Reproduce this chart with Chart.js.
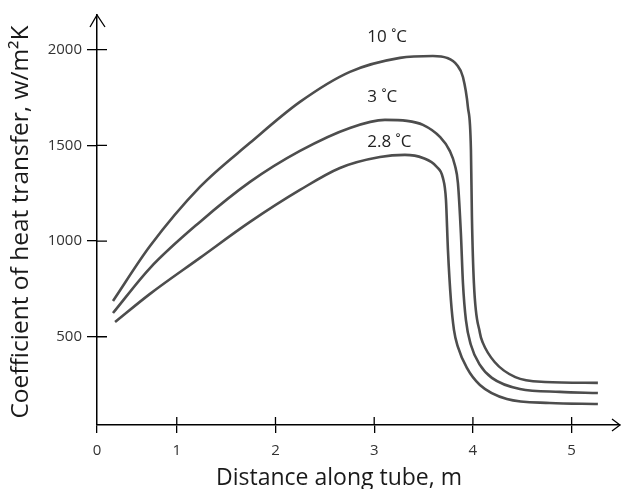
<!DOCTYPE html>
<html>
<head>
<meta charset="utf-8">
<script src="https://cdn.jsdelivr.net/npm/chart.js@4/dist/chart.umd.min.js"></script>
<style>
  html, body { margin: 0; padding: 0; background: #fff; }
  canvas { display: block; }
</style>
</head>
<body>
<canvas id="chart" width="621" height="489"></canvas>
<script>
// curve names, as written next to each curve
let seriesNames = ['10 ˚C', '3 ˚C', '2.8 ˚C'];

// 10 C curve: distance (m) and coefficient (W/m2K)
let dist10 = [0.354, 0.729, 1.235, 1.742, 2.248, 2.754, 3.261, 3.595, 3.737, 3.838, 3.899, 3.949, 3.980, 3.990, 4.010, 4.071, 4.101, 4.220, 4.430, 4.730, 5.266];
let coef10 = [687, 974, 1283, 1513, 1727, 1884, 1957, 1967, 1957, 1920, 1857, 1701, 1476, 1126, 781, 520, 468, 368, 289, 264, 259];

// 3 C curve
let dist3 = [0.354, 0.729, 1.235, 1.742, 2.248, 2.754, 3.109, 3.332, 3.494, 3.666, 3.767, 3.818, 3.848, 3.878, 3.899, 3.929, 3.980, 4.071, 4.192, 4.476, 4.881, 5.266];
let coef3 = [624, 859, 1100, 1309, 1471, 1591, 1633, 1628, 1607, 1544, 1470, 1395, 1304, 1042, 781, 588, 457, 353, 285, 227, 212, 206];

// 2.8 C curve
let dist28 = [0.375, 0.729, 1.235, 1.742, 2.248, 2.653, 3.058, 3.311, 3.494, 3.635, 3.696, 3.727, 3.747, 3.777, 3.808, 3.848, 3.939, 4.071, 4.344, 4.780, 5.266];
let coef28 = [577, 724, 912, 1100, 1267, 1382, 1439, 1450, 1434, 1387, 1330, 1215, 954, 692, 536, 447, 337, 248, 175, 154, 149];

let xTicks = [1, 2, 3, 4, 5];
let yTicks = [500, 1000, 1500, 2000];

// where the curve names sit, in data units (left edge, vertical middle)
let nameSpots = [[2.93, 2066], [2.93, 1753], [2.93, 1518]];

const X_MIN = 0.192, X_MAX = 5.49;
const Y_MIN = 39, Y_MAX = 2181;
const FONT = '"Open Sans", "Noto Sans", sans-serif';

function zip(xs, ys) {
    return xs.map((x, i) => ({ x: x, y: ys[i] }));
}

let canvas = document.getElementById('chart');

let axisDecor = {
    id: 'axisDecor',
    afterDraw(chart) {
        let ctx = chart.ctx;
        let xs = chart.scales.x, ys = chart.scales.y;
        let area = chart.chartArea;
        ctx.save();
        ctx.strokeStyle = '#000';
        ctx.lineWidth = 1.3;

        // inner halves of the tick marks
        ctx.beginPath();
        xTicks.forEach(v => {
            let px = xs.getPixelForValue(v);
            ctx.moveTo(px, area.bottom);
            ctx.lineTo(px, area.bottom - 8);
        });
        yTicks.forEach(v => {
            let py = ys.getPixelForValue(v);
            ctx.moveTo(area.left, py);
            ctx.lineTo(area.left + 10, py);
        });
        ctx.stroke();

        // arrow heads
        ctx.beginPath();
        ctx.moveTo(area.left - 7, area.top + 12);
        ctx.lineTo(area.left, area.top);
        ctx.lineTo(area.left + 8, area.top + 12);
        ctx.moveTo(area.right - 8, area.bottom - 6);
        ctx.lineTo(area.right, area.bottom);
        ctx.lineTo(area.right - 8, area.bottom + 6);
        ctx.stroke();

        // curve names
        ctx.fillStyle = '#222';
        ctx.font = '17px ' + FONT;
        ctx.textAlign = 'left';
        ctx.textBaseline = 'middle';
        nameSpots.forEach((p, i) => {
            ctx.fillText(seriesNames[i], xs.getPixelForValue(p[0]), ys.getPixelForValue(p[1]));
        });

        // axis titles
        ctx.fillStyle = '#1a1a1a';
        ctx.font = '23px ' + FONT;
        ctx.textAlign = 'center';
        ctx.textBaseline = 'alphabetic';
        ctx.fillText('Distance along tube, m', 339, 485);

        ctx.font = '24.5px ' + FONT;
        ctx.translate(21, 222);
        ctx.rotate(-Math.PI / 2);
        ctx.textBaseline = 'middle';
        ctx.fillText('Coefficient of heat transfer, w/m²K', 0, 0);
        ctx.restore();
    }
};

let lineStyle = {
    borderColor: '#4d4d4d',
    borderWidth: 2.6,
    pointRadius: 0,
    cubicInterpolationMode: 'monotone',
    fill: false
};

let chart = new Chart(canvas, {
    type: 'line',
    data: {
        datasets: [
            Object.assign({ label: seriesNames[0], data: zip(dist10, coef10) }, lineStyle),
            Object.assign({ label: seriesNames[1], data: zip(dist3, coef3) }, lineStyle),
            Object.assign({ label: seriesNames[2], data: zip(dist28, coef28) }, lineStyle)
        ]
    },
    options: {
        responsive: false,
        animation: false,
        layout: { padding: { top: 15, right: 1, left: 0, bottom: 0 } },
        plugins: {
            legend: { display: false },
            tooltip: { enabled: false }
        },
        scales: {
            x: {
                type: 'linear',
                min: X_MIN,
                max: X_MAX,
                afterBuildTicks: s => { s.ticks = [X_MIN].concat(xTicks).map(v => ({ value: v })); },
                afterFit: s => { s.height = 64; },
                grid: { drawOnChartArea: false, drawTicks: true, tickLength: 8, color: '#000', lineWidth: 1.3 },
                border: { display: true, color: '#000', width: 1.5 },
                ticks: {
                    autoSkip: false,
                    maxRotation: 0,
                    padding: 9,
                    color: '#333',
                    font: { family: FONT, size: 15 },
                    callback: (v, i) => i === 0 ? '0' : String(v)
                }
            },
            y: {
                type: 'linear',
                min: Y_MIN,
                max: Y_MAX,
                afterBuildTicks: s => { s.ticks = yTicks.map(v => ({ value: v })); },
                afterFit: s => { s.width = 97; },
                grid: { drawOnChartArea: false, drawTicks: true, tickLength: 10, color: '#000', lineWidth: 1.3 },
                border: { display: true, color: '#000', width: 1.5 },
                ticks: {
                    autoSkip: false,
                    padding: 5,
                    color: '#333',
                    font: { family: FONT, size: 15 },
                    callback: v => String(v)
                }
            }
        }
    },
    plugins: [axisDecor]
});
</script>
</body>
</html>
